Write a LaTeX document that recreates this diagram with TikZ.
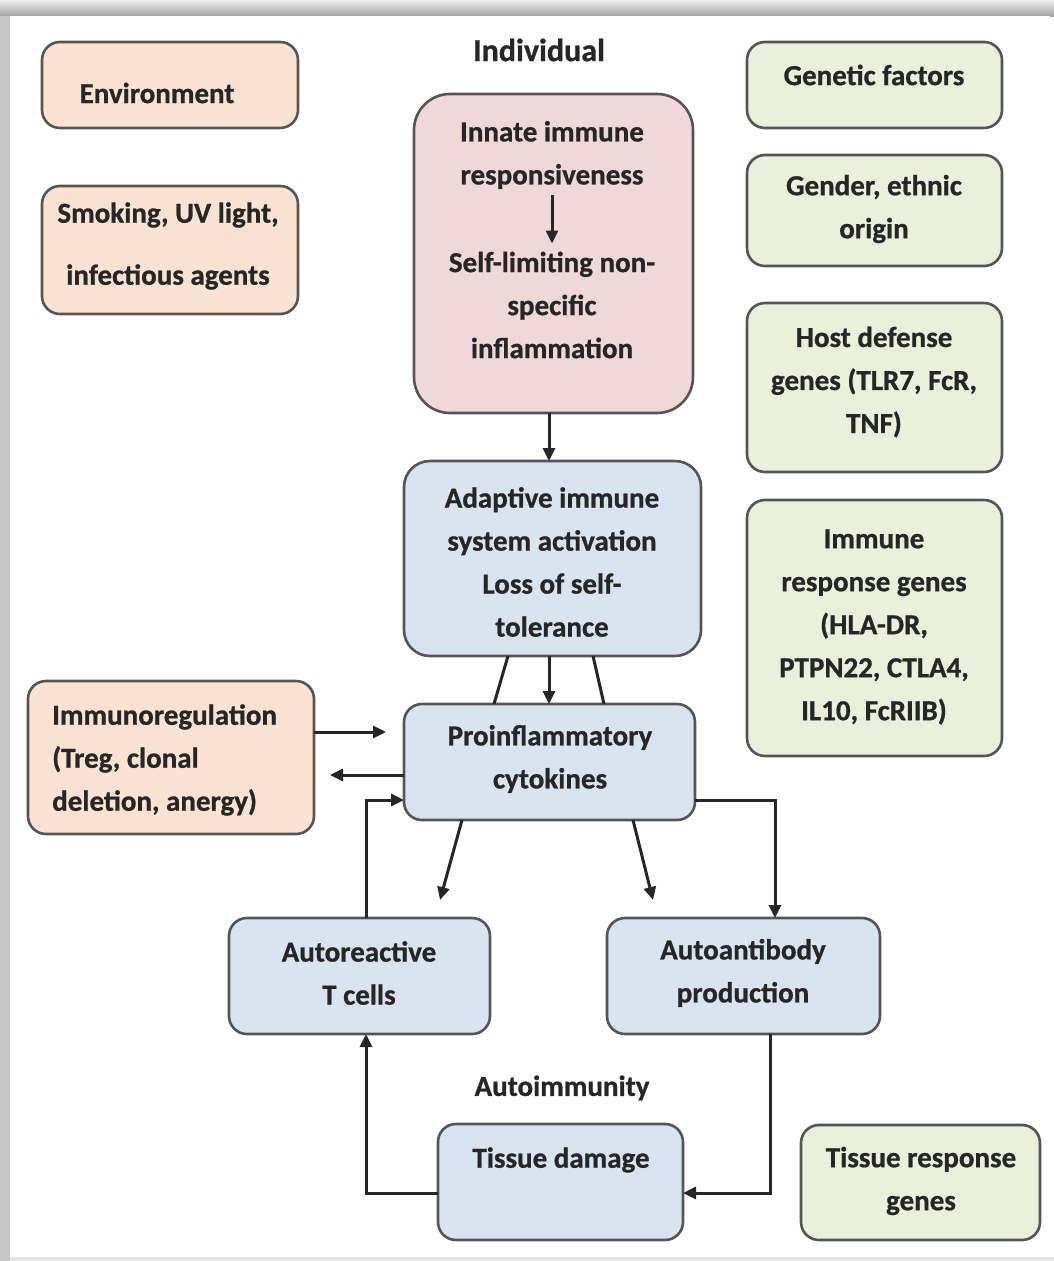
\documentclass[tikz,border=0pt]{standalone}
\usepackage{fontspec}
\setmainfont{Carlito}[BoldFeatures={FakeBold=0.8}]
\usetikzlibrary{arrows.meta,calc}
\definecolor{peach}{HTML}{FBE3D3}
\definecolor{lgreen}{HTML}{E9F0DC}
\definecolor{pinkb}{HTML}{F1D8D8}
\definecolor{lblue}{HTML}{DAE4F1}
\definecolor{edge}{HTML}{555555}
\tikzset{
  box/.style={draw=edge, line width=2.6pt, rounded corners=18pt, inner sep=0pt, outer sep=0pt},
  txt/.style={font=\fontsize{29}{43}\selectfont\bfseries, text=black!85, align=center, inner sep=0pt},
  arr/.style={draw=black!85, line width=3pt, -{Triangle[length=13pt,width=12pt]}},
  ln/.style={draw=black!85, line width=3pt}
}
\begin{document}
\begin{tikzpicture}[x=1pt,y=-1pt]
\useasboundingbox (0,0) rectangle (1054,1261);
% frame
\fill[white] (0,0) rectangle (1054,1261);
\shade[top color=gray!15, bottom color=gray!70] (0,0) rectangle (1054,16);
\fill[gray!45] (0,16) rectangle (10,1261);
\fill[gray!20] (10,1257) rectangle (1054,1261);
\fill[white] (10,16) rectangle (1050,1257);
% labels
\node[txt, font=\fontsize{32}{43}\selectfont\bfseries] (ind) at (539,50) {Individual};
\node[txt] (aut) at (562,1088) {Autoimmunity};
% boxes
\node[box, fill=peach, minimum width=256pt, minimum height=86pt] (env) at (170,85) {};
\node[txt] (env-t) at (157,93) {Environment};
\node[box, fill=peach, minimum width=256pt, minimum height=128pt] (smk) at (170,250) {};
\node[txt] (smk-t) at (168,246) {Smoking, UV light,\\[19pt]infectious agents};
\node[box, fill=lgreen, minimum width=255pt, minimum height=86pt] (gen) at (874.5,85) {};
\node[txt] (gen-t) at (874,75) {Genetic factors};
\node[box, fill=lgreen, minimum width=255pt, minimum height=111pt] (gnd) at (874.5,210.5) {};
\node[txt] (gnd-t) at (874,209) {Gender, ethnic\\origin};
\node[box, fill=lgreen, minimum width=255pt, minimum height=169pt] (host) at (874.5,387.5) {};
\node[txt] (host-t) at (874,382) {Host defense\\genes (TLR7, FcR,\\TNF)};
\node[box, fill=lgreen, minimum width=255pt, minimum height=256pt] (imr) at (874.5,628) {};
\node[txt] (imr-t) at (874,627) {Immune\\response genes\\(HLA-DR,\\PTPN22, CTLA4,\\IL10, FcRIIB)};
\node[box, fill=lgreen, minimum width=239pt, minimum height=115pt] (trg) at (920.5,1182.5) {};
\node[txt] (trg-t) at (921,1181) {Tissue response\\genes};
\node[box, fill=pinkb, rounded corners=36pt, minimum width=279pt, minimum height=319pt] (inn) at (553.5,253.5) {};
\node[txt] (inn-t1) at (552,155) {Innate immune\\responsiveness};
\node[txt] (inn-t2) at (552,305) {Self-limiting non-\\specific\\inflammation};
\node[box, fill=lblue, rounded corners=26pt, minimum width=297pt, minimum height=195pt] (adp) at (552.5,558.5) {};
\node[txt] (adp-t) at (552,562) {Adaptive immune\\system activation\\Loss of self-\\tolerance};
\node[box, fill=peach, minimum width=286pt, minimum height=153pt] (ireg) at (171,757.5) {};
\node[txt, align=left, anchor=west] (ireg-t) at (52,760) {Immunoregulation\\(Treg, clonal\\deletion, anergy)};
\node[box, fill=lblue, minimum width=291pt, minimum height=116pt] (pro) at (549.5,762) {};
\node[txt] (pro-t) at (550,759) {Proinflammatory\\cytokines};
\node[box, fill=lblue, minimum width=261pt, minimum height=116pt] (atc) at (359.5,976) {};
\node[txt] (atc-t) at (359,973) {Autoreactive\\T cells};
\node[box, fill=lblue, minimum width=273pt, minimum height=116pt] (aab) at (743.5,976) {};
\node[txt] (aab-t) at (743,973) {Autoantibody\\production};
\node[box, fill=lblue, minimum width=245pt, minimum height=116pt] (tdm) at (560.5,1182) {};
\node[txt] (tdm-t) at (561,1160) {Tissue damage};
% connectors
\draw[arr, shorten <=6pt, shorten >=8pt] (inn-t1.south) -- (inn-t2.north);
\draw[arr] ([xshift=-4.5pt]inn.south) -- ([xshift=-4.5pt]inn.south |- adp.north);
\draw[arr] ([xshift=-3.5pt]adp.south) -- ([xshift=-3.5pt]adp.south |- pro.north);
\draw[ln] ([xshift=-44.5pt]adp.south) -- ([xshift=-55.5pt]pro.north);
\draw[ln] ([xshift=40.5pt]adp.south) -- ([xshift=54.5pt]pro.north);
\draw[arr, shorten >=18pt] ([yshift=25.5pt]ireg.east) -- ([yshift=30pt]pro.west);
\draw[arr, shorten >=16pt] ([yshift=-13pt]pro.west) -- ([yshift=-17.5pt]ireg.east);
\draw[arr] ([xshift=6.5pt]atc.north) |- ([yshift=-38pt]pro.west);
\draw[arr] ([xshift=-87.5pt]pro.south) -- ([xshift=80.5pt,yshift=18pt]atc.north);
\draw[arr] ([xshift=83.5pt]pro.south) -- ([xshift=-90.5pt,yshift=18pt]aab.north);
\draw[arr] ([yshift=-38pt]pro.east) -| ([xshift=31.5pt]aab.north);
\draw[arr] ([xshift=26.5pt]aab.south) |- ([yshift=-11pt]tdm.east);
\draw[arr] ([yshift=-11pt]tdm.west) -| ([xshift=6.5pt]atc.south);
\end{tikzpicture}
\end{document}
